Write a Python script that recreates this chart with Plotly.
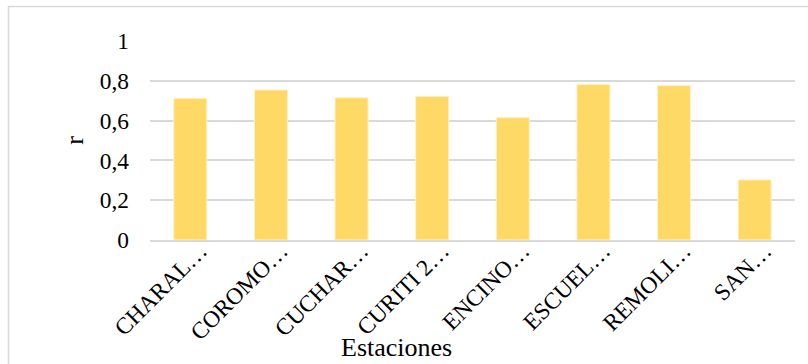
import plotly.graph_objects as go

# Correlation coefficient (r) per station
estaciones = ["CHARAL…", "COROMO…", "CUCHAR…", "CURITI 2…", "ENCINO…", "ESCUEL…", "REMOLI…", "SAN…"]
r_valores = [0.712, 0.754, 0.715, 0.722, 0.615, 0.782, 0.776, 0.302]
y_ticks = [0, 0.2, 0.4, 0.6, 0.8, 1]
y_tick_text = ["0", "0,2", "0,4", "0,6", "0,8", "1"]

FONT = "Liberation Serif, Times New Roman, serif"
FS_TICK = 23.4
FS_TITLE = 26
W, H = 808, 364
L, R, T, B = 150, 13, 41, 124
pw, ph = W - L - R, H - T - B


def px_x(p):
    return (p - L) / pw


def px_y(p):
    return (H - B - p) / ph


fig = go.Figure(
    go.Bar(
        x=estaciones,
        y=r_valores,
        width=0.41,
        marker=dict(color="#FFD966", line=dict(color="#FFF2CC", width=1)),
    )
)

# outer chart frame (extends past the right and bottom edges)
fig.add_shape(
    type="rect", xref="paper", yref="paper",
    x0=px_x(8.5), x1=px_x(815), y0=px_y(6.5), y1=px_y(372),
    line=dict(color="#D9D9D9", width=1.5), fillcolor="rgba(0,0,0,0)", layer="below",
)

# x-axis title, centred on the whole chart
fig.add_annotation(
    text="Estaciones", xref="paper", yref="paper",
    x=px_x(396), y=px_y(364), xanchor="center", yanchor="bottom",
    showarrow=False, font=dict(family=FONT, size=FS_TITLE, color="#000000"),
)

fig.update_layout(
    width=W, height=H,
    margin=dict(l=L, r=R, t=T, b=B),
    paper_bgcolor="white", plot_bgcolor="white",
    font=dict(family=FONT, size=FS_TICK, color="#000000"),
    showlegend=False,
    xaxis=dict(
        tickangle=-45,
        showgrid=False,
        showline=True, linecolor="#D9D9D9", linewidth=1.5,
        ticks="",
        ticklabelshift=10,
        ticklabelstandoff=-14,
        tickfont=dict(size=FS_TICK),
    ),
    yaxis=dict(
        range=[0, 1],
        tickvals=y_ticks, ticktext=y_tick_text,
        showgrid=True, gridcolor="#D9D9D9", gridwidth=1.5,
        zeroline=False, showline=False, ticks="",
        ticklabelstandoff=20,
        title=dict(text="r", standoff=8, font=dict(size=FS_TITLE)),
        tickfont=dict(size=FS_TICK),
    ),
)

fig.write_html("out.html")
